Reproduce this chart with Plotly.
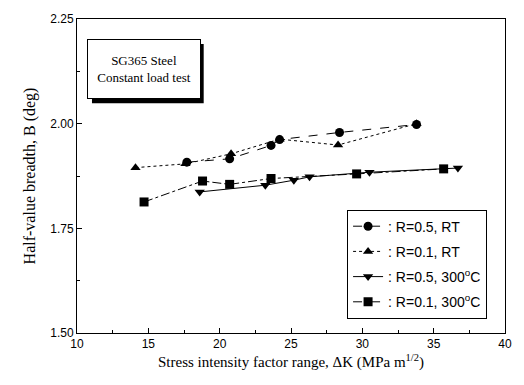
import plotly.graph_objects as go

# Stress intensity factor range (MPa m^1/2) and half-value breadth (deg)
dk_r05_rt = [17.7, 20.7, 23.6, 24.2, 28.4, 33.8]
b_r05_rt = [1.908, 1.916, 1.948, 1.962, 1.979, 1.998]

dk_r01_rt = [14.1, 17.6, 20.8, 24.2, 28.3, 33.8]
b_r01_rt = [1.895, 1.904, 1.928, 1.963, 1.949, 2.000]

dk_r05_300 = [18.6, 23.2, 25.2, 26.3, 30.5, 36.7]
b_r05_300 = [1.837, 1.853, 1.865, 1.873, 1.884, 1.894]

dk_r01_300 = [14.7, 18.8, 20.7, 23.6, 29.6, 35.7]
b_r01_300 = [1.813, 1.863, 1.855, 1.869, 1.880, 1.892]

x_ticks = [10, 15, 20, 25, 30, 35, 40]
y_ticks = [1.50, 1.75, 2.00, 2.25]
y_tick_text = ["1.50", "1.75", "2.00", "2.25"]

fig = go.Figure()

series = [
    (dk_r05_rt, b_r05_rt, ": R=0.5, RT", "circle", "dash"),
    (dk_r01_rt, b_r01_rt, ": R=0.1, RT", "triangle-up", "dot"),
    (dk_r05_300, b_r05_300, ": R=0.5, 300<sup>o</sup>C", "triangle-down", "solid"),
    (dk_r01_300, b_r01_300, ": R=0.1, 300<sup>o</sup>C", "square", "dashdot"),
]
for i, (xs, ys, name, sym, dash) in enumerate(series):
    fig.add_trace(go.Scatter(
        x=xs, y=ys, name=name, mode="lines+markers", legendgroup=f"g{i}",
        line=dict(color="black", width=1, dash=dash),
        marker=dict(symbol=sym, size=9, color="black"),
    ))

axis_font = dict(family="Liberation Sans, Arial, sans-serif", size=12, color="black")
title_font = dict(family="Liberation Serif, Times New Roman, serif", size=16, color="black")

fig.update_xaxes(
    range=[10, 40], tickvals=x_ticks, ticks="inside", ticklen=5, tickcolor="black",
    showline=True, linecolor="black", linewidth=1, mirror=True, showgrid=False,
    zeroline=False, tickfont=axis_font,
    minor=dict(dtick=2.5, ticks="inside", ticklen=3, tickcolor="black"),
    title=dict(text="Stress intensity factor range, ΔK (MPa m<sup>1/2</sup>)",
               font=dict(family="Liberation Serif, Times New Roman, serif", size=15,
                         color="black"), standoff=6),
)
fig.update_yaxes(
    range=[1.50, 2.25], tickvals=y_ticks, ticktext=y_tick_text, ticks="inside",
    ticklen=5, tickcolor="black", showline=True, linecolor="black", linewidth=1,
    mirror=True, showgrid=False, zeroline=False, tickfont=axis_font,
    minor=dict(dtick=0.125, ticks="inside", ticklen=3, tickcolor="black"),
    title=dict(text="Half-value breadth, B (deg)", font=title_font, standoff=10),
)

# Label box with a drop shadow
fig.add_shape(type="rect", xref="paper", yref="paper",
              x0=0.035, x1=0.296, y0=0.732, y1=0.92,
              fillcolor="black", line=dict(width=0), layer="above")
fig.add_annotation(
    xref="paper", yref="paper", x=0.023, y=0.937, xanchor="left", yanchor="top",
    text="SG365 Steel<br>Constant load test", showarrow=False, align="center",
    font=dict(family="Liberation Serif, Times New Roman, serif", size=13, color="black"),
    bgcolor="white", bordercolor="black", borderwidth=1, borderpad=6,
    width=100, height=46,
)

fig.update_layout(
    width=524, height=385,
    margin=dict(l=77, r=13, t=15, b=52),
    plot_bgcolor="white", paper_bgcolor="white",
    legend=dict(
        x=0.631, y=0.393, xanchor="left", yanchor="top",
        bgcolor="white", bordercolor="black", borderwidth=1,
        font=dict(family="Liberation Sans, Arial, sans-serif", size=14, color="black"),
        tracegroupgap=4, itemwidth=30,
    ),
    showlegend=True,
)

fig.write_html("out.html")
